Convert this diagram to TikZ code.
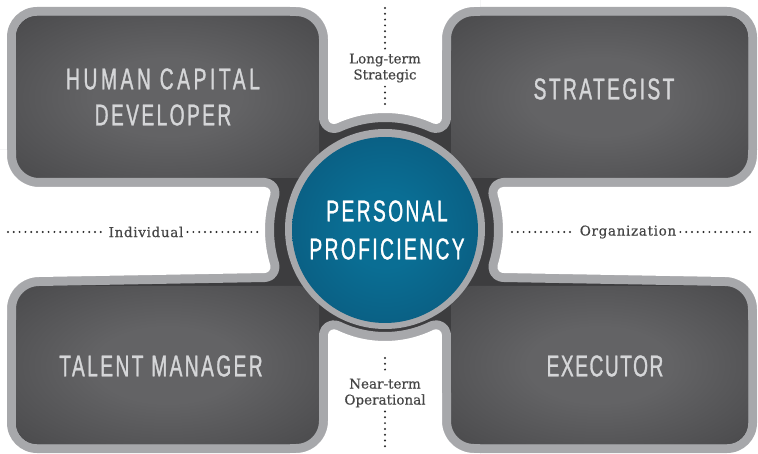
\documentclass[tikz,border=0pt]{standalone}
\usepackage{fontspec}
\newfontfamily\boxfont[FakeStretch=0.64,LetterSpace=8,FakeBold=1]{Liberation Sans}
\newfontfamily\boxfontwide[FakeStretch=0.64,LetterSpace=12,FakeBold=1]{Liberation Sans}
\newfontfamily\boxfontnarrow[FakeStretch=0.64,LetterSpace=5,FakeBold=1]{Liberation Sans}
\newfontfamily\labfont[FakeBold=0.5]{DejaVu Serif}
\newfontfamily\labfontwide[FakeBold=0.5,LetterSpace=5]{DejaVu Serif}
\definecolor{rim}{HTML}{A7A8AB}
\definecolor{darkfill}{HTML}{3D3D3F}
\definecolor{boxmid}{HTML}{636365}
\definecolor{boxedge}{HTML}{3B3B3D}
\definecolor{bluemid}{HTML}{0A6E94}
\definecolor{blueedge}{HTML}{094A6C}
\definecolor{boxtxt}{HTML}{D5D6D8}
\definecolor{labtxt}{HTML}{454545}
\definecolor{dotc}{HTML}{2A2A2A}
\pgfdeclareradialshading{boxshade}{\pgfpoint{0bp}{0bp}}{color(0bp)=(boxmid); color(12bp)=(boxmid); color(50bp)=(boxedge)}
\pgfdeclareradialshading{blueshade}{\pgfpoint{0bp}{0bp}}{color(0bp)=(bluemid); color(10bp)=(bluemid); color(50bp)=(blueedge)}
\tikzset{
  boxtext/.style={font=\boxfont\fontsize{30}{36}\selectfont, text=boxtxt, align=center, inner sep=0pt},
  coretext/.style={font=\boxfont\fontsize{30}{38}\selectfont, text=white, align=center, inner sep=0pt},
  axislabel/.style={font=\labfont\fontsize{13.5}{16}\selectfont, text=labtxt, align=center, inner sep=4pt},
  axislabelwide/.style={axislabel, font=\labfontwide\fontsize{13.5}{16}\selectfont},
  dotline/.style={draw=dotc, line width=2.2pt, line cap=round, dash pattern=on 0pt off 5.8pt},
  boxpanel/.style={shading=boxshade, rounded corners=21pt},
  notchrim/.style={draw=rim, line width=18pt, line cap=butt, line join=round},
  notchgap/.style={fill=white}
}
% white-boundary paths of the four notches (open parts)
\def\topnotch{(290,7) -- (296,7) arc[start angle=270, end angle=360, radius=32]
  -- (328,118.07) arc[start angle=180, end angle=65.51, radius=6]
  arc[start angle=245.51, end angle=294.49, radius=117]
  arc[start angle=114.49, end angle=0, radius=6]
  -- (442,39) arc[start angle=180, end angle=270, radius=32] -- (480,7)}
\def\botnotch{(290,453) -- (296,453) arc[start angle=90, end angle=0, radius=32]
  -- (328,335.30) arc[start angle=180, end angle=295.84, radius=6]
  arc[start angle=115.84, end angle=64.16, radius=111]
  arc[start angle=244.16, end angle=360, radius=6]
  -- (442,421) arc[start angle=180, end angle=90, radius=32] -- (480,453)}
\def\leftnotch{(7,150) -- (7,155) arc[start angle=180, end angle=90, radius=32]
  -- (264.56,187) arc[start angle=270, end angle=377.08, radius=6]
  arc[start angle=197.08, end angle=162.92, radius=120]
  arc[start angle=-17.08, end angle=90, radius=6]
  -- (39,277) arc[start angle=270, end angle=180, radius=32] -- (7,320)}
\def\rightnotch{(757,150) -- (757,155) arc[start angle=0, end angle=90, radius=32]
  -- (503.35,187) arc[start angle=270, end angle=162.64, radius=6]
  arc[start angle=-17.36, end angle=17.36, radius=118]
  arc[start angle=197.36, end angle=90, radius=6]
  -- (725,277) arc[start angle=270, end angle=360, radius=32] -- (757,320)}
\begin{document}
\begin{tikzpicture}[x=1pt,y=-1pt]
\useasboundingbox (0,0) rectangle (758,454);
% frame: rim and dark interior
\fill[rim, rounded corners=30pt] (7,7) rectangle (757,453);
\fill[darkfill, rounded corners=21pt] (16,16) rectangle (748,444);
\path[boxpanel] (16,16) rectangle (319,178);
\path[boxpanel] (451,16) rectangle (748,178);
\path[boxpanel] (16,286) rectangle (319,444);
\path[boxpanel] (451,286) rectangle (748,444);
% notches between the panels
\draw[notchrim] \topnotch;
\fill[notchgap] \topnotch -- (480,-10) -- (290,-10) -- cycle;
\draw[notchrim] \botnotch;
\fill[notchgap] \botnotch -- (480,470) -- (290,470) -- cycle;
\draw[notchrim] \leftnotch;
\fill[notchgap] \leftnotch -- (-10,320) -- (-10,150) -- cycle;
\draw[notchrim] \rightnotch;
\fill[notchgap] \rightnotch -- (775,320) -- (775,150) -- cycle;
% central circle
\fill[rim] (385,229) circle (100);
\path[shading=blueshade] (385,230) circle (93);
% texts
\node[boxtext] (hcd) at (163,97) {{\boxfontwide HUMAN CAPITAL}\\DEVELOPER};
\node[boxtext] (str) at (604,89) {STRATEGIST};
\node[boxtext] (tal) at (161,366) {TALENT MANAGER};
\node[boxtext, font=\boxfontnarrow\fontsize{30}{36}\selectfont] (exe) at (605,366) {EXECUTOR};
\node[coretext] (core) at (387,230) {PERSONAL\\PROFICIENCY};
% axis labels
\node[axislabel] (lt) at (385,68) {Long-term\\Strategic};
\node[axislabel] (nt) at (385,393) {Near-term\\Operational};
\node[axislabelwide] (ind) at (146,232) {Individual};
\node[axislabelwide] (org) at (628,232) {Organization};
% free ends of dotted lines
\coordinate (ttop) at (385,8);
\coordinate (tbot) at (385,107);
\coordinate (btop) at (385,358);
\coordinate (bbot) at (385,451);
\coordinate (lleft) at (8,232);
\coordinate (lright) at (258,232);
\coordinate (rleft) at (512,232);
\coordinate (rright) at (755,232);
\draw[dotline] (ttop) -- (lt.north);
\draw[dotline] (lt.south) -- (tbot);
\draw[dotline] (btop) -- (nt.north);
\draw[dotline] (nt.south) -- (bbot);
\draw[dotline] (lleft) -- (ind.west);
\draw[dotline] (ind.east) -- (lright);
\draw[dotline] (rleft) -- (org.west);
\draw[dotline] (org.east) -- (rright);
\end{tikzpicture}
\end{document}
